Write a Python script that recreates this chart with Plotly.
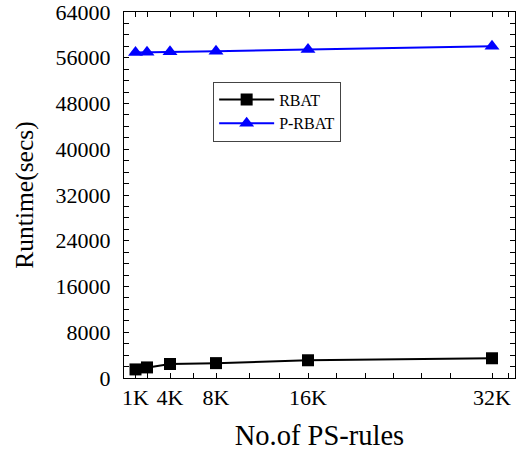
import plotly.graph_objects as go

rules_k = [1, 2, 4, 8, 16, 32]
rbat = [1500, 1850, 2450, 2600, 3100, 3450]
prbat = [56900, 56950, 57050, 57150, 57450, 58000]

x_tickvals = [1, 2, 4, 6, 8, 10.9, 13.5, 16, 18.5, 21, 23.4, 25.9, 28.4, 32, 33.4]
x_ticktext = ["1K", "", "4K", "", "8K", "", "", "16K", "", "", "", "", "", "32K", ""]
y_tickvals = list(range(0, 64001, 2000))
y_ticktext = [str(v) if v % 8000 == 0 else "" for v in y_tickvals]

font = "Liberation Serif, Times New Roman, serif"

fig = go.Figure()
fig.add_trace(go.Scatter(x=rules_k, y=rbat, name="RBAT", mode="lines+markers",
                         line=dict(color="black", width=2),
                         marker=dict(symbol="square", size=12, color="black")))
fig.add_trace(go.Scatter(x=rules_k, y=prbat, name="P-RBAT", mode="lines+markers",
                         line=dict(color="#0000ff", width=2),
                         marker=dict(symbol="triangle-up", size=13, color="#0000ff")))

axis_common = dict(showgrid=False, zeroline=False, showline=True, linecolor="black",
                   linewidth=1, ticks="inside", ticklen=5, tickcolor="black",
                   mirror="ticks", automargin=False, ticklabeloverflow="allow",
                   tickfont=dict(family=font, size=22, color="black"))

fig.update_layout(
    width=516, height=452,
    margin=dict(l=124, r=1, t=12, b=74),
    paper_bgcolor="white", plot_bgcolor="white",
    font=dict(family=font, color="black"),
    showlegend=True,
    legend=dict(x=0.228, y=0.81, xanchor="left", yanchor="top",
                bordercolor="#444", borderwidth=1, bgcolor="white",
                font=dict(family=font, size=16, color="black"),
                itemwidth=55, tracegroupgap=0),
    xaxis=dict(range=[0, 34], tickvals=x_tickvals, ticktext=x_ticktext,
               title=dict(text="No.of PS-rules", font=dict(family=font, size=28.5), standoff=15),
               **axis_common),
    yaxis=dict(range=[0, 64000], tickvals=y_tickvals, ticktext=y_ticktext,
               ticklabelstandoff=8,
               title=dict(text="Runtime(secs)", font=dict(family=font, size=25.5), standoff=14),
               **axis_common),
)

fig.write_html("out.html", config={"displayModeBar": False},
               post_script="document.body.style.margin='0';")
